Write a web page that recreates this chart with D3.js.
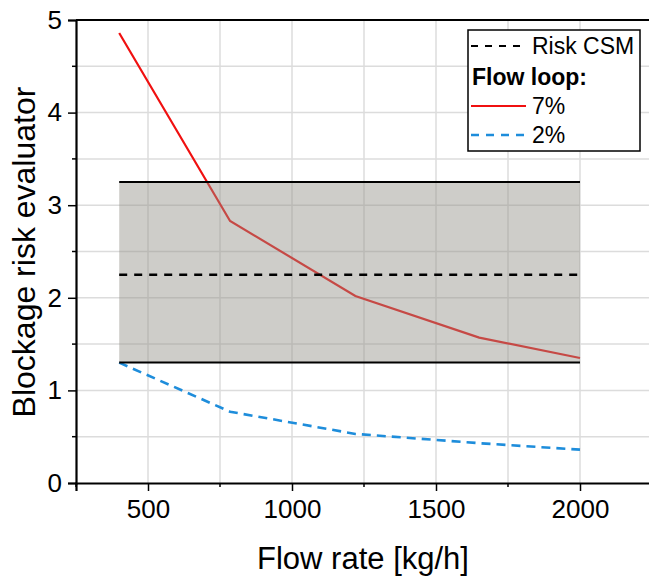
<head>
	<style>
		body { margin: 0; padding: 0; background: #fff; }
		svg { font-family: "Liberation Sans", Arial, sans-serif; }
		.grid line { stroke: #dcdcdc; stroke-width: 1.5; }
	</style>
	<script src="https://cdnjs.cloudflare.com/ajax/libs/d3/7.8.5/d3.min.js"></script>
</head>
<body>
	<svg width="649" height="579"></svg>
</body>
<script>
	// values
	const flowRate = [400, 785, 1220, 1650, 2000];
	const risk7 = [4.86, 2.83, 2.02, 1.57, 1.35];
	const risk2 = [1.30, 0.77, 0.53, 0.43, 0.36];
	const csmFlow = [400, 2000];
	const csmBand = [1.3, 3.25];
	const csmRisk = 2.25;
	const xTicks = [500, 1000, 1500, 2000];
	const xMinor = [250, 750, 1250, 1750, 2250];
	const yTicks = [0, 1, 2, 3, 4, 5];
	const yMinor = [0.5, 1.5, 2.5, 3.5, 4.5];
	const legendItems = ['Risk CSM', 'Flow loop:', '7%', '2%'];

	function drawChart() {
		const svg = d3.select('svg');
		const x = d3.scaleLinear().domain([250, 2250]).range([76, 652]);
		const y = d3.scaleLinear().domain([0, 5]).range([483, 20]);

		/* GRID */
		const grid = svg.append('g').attr('class', 'grid');
		grid.selectAll('.gx').data(xTicks.concat(xMinor.slice(1, 4))).enter().append('line')
			.attr('x1', d => x(d)).attr('x2', d => x(d))
			.attr('y1', y(0)).attr('y2', y(5));
		grid.selectAll('.gy').data(yTicks.slice(1).concat(yMinor)).enter().append('line')
			.attr('x1', x(250)).attr('x2', x(2250))
			.attr('y1', d => y(d)).attr('y2', d => y(d));

		/* LINES */
		const pts = arr => flowRate.map((f, i) => [f, arr[i]]);
		const line = d3.line().x(d => x(d[0])).y(d => y(d[1]));
		svg.append('path').datum(pts(risk7))
			.attr('d', line).attr('fill', 'none')
			.attr('stroke', '#f01010').attr('stroke-width', 2.2);
		svg.append('path').datum(pts(risk2))
			.attr('d', line).attr('fill', 'none')
			.attr('stroke', '#1e8ddb').attr('stroke-width', 2.6)
			.attr('stroke-dasharray', '9,6');

		/* CSM BAND */
		svg.append('rect')
			.attr('x', x(csmFlow[0])).attr('width', x(csmFlow[1]) - x(csmFlow[0]))
			.attr('y', y(csmBand[1])).attr('height', y(csmBand[0]) - y(csmBand[1]))
			.attr('fill', 'rgb(146,144,136)').attr('fill-opacity', 0.45);
		svg.selectAll('.band').data(csmBand).enter().append('line')
			.attr('x1', x(csmFlow[0])).attr('x2', x(csmFlow[1]))
			.attr('y1', d => y(d)).attr('y2', d => y(d))
			.attr('stroke', '#000').attr('stroke-width', 2);
		svg.append('line')
			.attr('x1', x(csmFlow[0])).attr('x2', x(csmFlow[1]))
			.attr('y1', y(csmRisk)).attr('y2', y(csmRisk))
			.attr('stroke', '#000').attr('stroke-width', 2.5)
			.attr('stroke-dasharray', '8,7');

		/* AXES */
		const gx = svg.append('g').attr('transform', `translate(0,${y(0)})`)
			.call(d3.axisBottom(x).tickValues(xTicks).tickFormat(d3.format('d')).tickSize(8).tickPadding(9));
		gx.append('g').selectAll('line').data(xMinor).enter().append('line')
			.attr('x1', d => x(d)).attr('x2', d => x(d)).attr('y2', 4)
			.attr('stroke', '#000').attr('stroke-width', 1.5);
		const gy = svg.append('g').attr('transform', `translate(${x(250)},0)`)
			.call(d3.axisLeft(y).tickValues(yTicks).tickFormat(d3.format('d')).tickSize(8).tickPadding(6));
		gy.append('g').selectAll('line').data(yMinor).enter().append('line')
			.attr('y1', d => y(d)).attr('y2', d => y(d)).attr('x2', -4)
			.attr('stroke', '#000').attr('stroke-width', 1.5);
		[gx, gy].forEach(g => {
			g.select('.domain').attr('stroke-width', 2.2);
			g.selectAll('.tick line').attr('stroke-width', 1.5);
			g.selectAll('text').attr('font-size', 26).attr('font-family', '"Liberation Sans", Arial, sans-serif').attr('fill', '#000');
		});
		svg.append('line')
			.attr('x1', x(250)).attr('x2', x(2250))
			.attr('y1', y(5)).attr('y2', y(5))
			.attr('stroke', '#000').attr('stroke-width', 2);

		/* TITLES */
		svg.append('text').attr('x', 363).attr('y', 569)
			.attr('text-anchor', 'middle').attr('font-size', 31)
			.text('Flow rate [kg/h]');
		svg.append('text').attr('transform', 'translate(35,252) rotate(-90)')
			.attr('text-anchor', 'middle').attr('font-size', 32)
			.text('Blockage risk evaluator');

		/* LEGEND */
		const lg = svg.append('g').attr('transform', 'translate(468,30)');
		lg.append('rect').attr('width', 172).attr('height', 121)
			.attr('fill', '#fff').attr('stroke', '#000').attr('stroke-width', 1.5);
		const rowY = [24, 55, 84, 113];
		const sym = [
			{ stroke: '#000', dash: '7,7', w: 2.2 },
			null,
			{ stroke: '#f01010', dash: null, w: 2.2 },
			{ stroke: '#1e8ddb', dash: '8,7', w: 2.6 }
		];
		legendItems.forEach((t, i) => {
			if (sym[i]) {
				lg.append('line').attr('x1', 3).attr('x2', 58)
					.attr('y1', rowY[i] - 8).attr('y2', rowY[i] - 8)
					.attr('stroke', sym[i].stroke).attr('stroke-width', sym[i].w)
					.attr('stroke-dasharray', sym[i].dash);
			}
			lg.append('text').attr('x', sym[i] ? 64 : 4).attr('y', rowY[i])
				.attr('font-size', 23).attr('font-weight', sym[i] ? 'normal' : 'bold')
				.text(t);
		});
	}
	document.addEventListener('DOMContentLoaded', drawChart, false);
</script>
